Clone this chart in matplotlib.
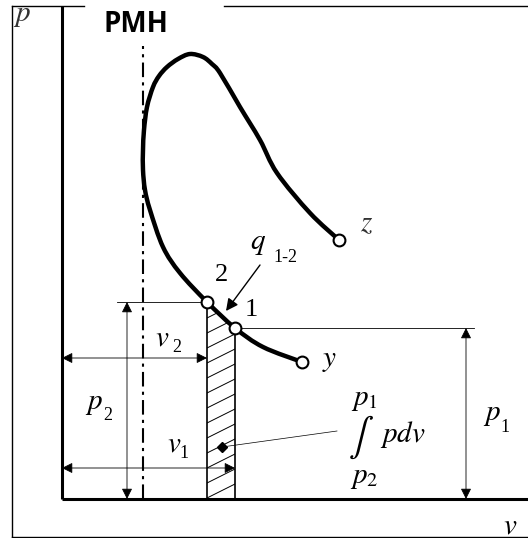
import matplotlib
matplotlib.use("Agg")
import matplotlib.pyplot as plt
from matplotlib.patches import Polygon, PathPatch
from matplotlib.path import Path
import numpy as np

plt.rcParams['mathtext.fontset'] = 'stix'

# diagram coordinates: v to the right, p upward (origin at the axes corner)
curve_v = [277, 248, 215, 198, 178, 158, 150, 141, 128, 116, 105, 97, 91, 85, 82, 81, 81, 83, 88, 101, 118, 145, 173, 201, 240]
curve_p = [259, 286, 326, 359, 392, 426, 435, 442, 445, 440, 432, 423, 412, 392, 369, 349, 329, 309, 289, 252, 226, 197, 171, 152, 137]

# marked states: z (start), 2, 1, y (end)
point_names = ['z', '2', '1', 'y']
point_v = [277, 145, 173, 240]
point_p = [259, 197, 171, 137]

pmh_v = 81          # dead centre line
v_max, p_top = 466, 493

fig = plt.figure(figsize=(5.28, 5.38), dpi=100)
ax = fig.add_axes([0, 0, 1, 1])
ax.set_xlim(-62, 466)
ax.set_ylim(-39, 499)
ax.axis('off')

# outer frame
ax.plot([-50, -50], [-38, p_top], color='black', lw=1.0)
ax.plot([-50, v_max], [-38, -38], color='black', lw=1.0)
ax.plot([-50, 22], [p_top, p_top], color='black', lw=1.0)
ax.plot([162, v_max], [p_top, p_top], color='black', lw=1.0)

# p-v axes
ax.plot([0, 0], [0, p_top], color='black', lw=2.2, solid_capstyle='butt')
ax.plot([0, v_max], [0, 0], color='black', lw=2.2, solid_capstyle='butt')

# PMH line
ax.plot([pmh_v, pmh_v], [0, 453], color='black', lw=1.5,
        linestyle=(0, (7, 2.5, 1.5, 2.5)))
ax.text(74, 474, 'PMH', fontfamily='Open Sans', fontweight='bold',
        fontsize=20, ha='center', va='center')

# hatched work area between 2 and 1
v2, p2 = point_v[1], point_p[1]
v1, p1 = point_v[2], point_p[2]
area = Polygon([(v2, 0), (v2, p2), (v1, p1), (v1, 0)], closed=True,
               facecolor='white', edgecolor='black', lw=1.2)
ax.add_patch(area)
for c in np.arange(-14, p2, 15):
    hl, = ax.plot([v2, v1], [c, c + 0.5 * (v1 - v2)], color='black', lw=0.7)
    hl.set_clip_path(area)

# process curve, smoothed with cubic bezier handles
pts = np.column_stack([curve_v, curve_p]).astype(float)
verts = [pts[0]]
codes = [Path.MOVETO]
for i in range(len(pts) - 1):
    prev = pts[max(i - 1, 0)]
    nxt = pts[min(i + 2, len(pts) - 1)]
    verts += [pts[i] + (pts[i + 1] - prev) / 6, pts[i + 1] - (nxt - pts[i]) / 6, pts[i + 1]]
    codes += [Path.CURVE4] * 3
ax.add_patch(PathPatch(Path(verts, codes), fill=False, lw=3.2, edgecolor='black',
                       capstyle='round', joinstyle='round', zorder=3))
ax.plot(point_v, point_p, 'o', ms=8.5, mfc='white', mec='black', mew=1.5,
        zorder=4)

# guide lines
ax.plot([55, v2], [p2, p2], color='black', lw=0.6)
ax.plot([v1, 412], [p1, p1], color='black', lw=0.6)


def dim_arrow(a, b):
    ax.annotate('', xy=b, xytext=a,
                arrowprops=dict(arrowstyle='<|-|>', color='black', lw=0.6,
                                mutation_scale=16, shrinkA=0, shrinkB=0))


dim_arrow((65, 0), (65, p2))
dim_arrow((404, 0), (404, p1))
dim_arrow((0, 141), (v2, 141))
dim_arrow((0, 31), (v1, 31))

# heat arrow q1-2
ax.annotate('', xy=(164, 188), xytext=(198, 234),
            arrowprops=dict(arrowstyle='-|>', color='black', lw=1.0,
                            mutation_scale=18, shrinkA=0, shrinkB=0))

# leader to the integral
ax.plot([160, 275], [52, 68], color='black', lw=0.5)
ax.plot([160], [52], 'D', ms=5, color='black')

fs = 21
sub = dict(fontfamily='Liberation Serif', fontsize=13, ha='center', va='center')
ax.text(-40, 484, r'$p$', fontsize=fs, ha='center', va='center', color='#333333')
ax.text(448, -27, r'$v$', fontsize=fs, ha='center', va='center')
ax.text(305, 276, r'$z$', fontsize=fs, ha='center', va='center', color='#333333')
ax.text(268, 139, r'$y$', fontsize=fs, ha='center', va='center')
ax.text(159, 224, '2', fontfamily='Liberation Serif', fontsize=19, ha='center', va='center')
ax.text(189, 189, '1', fontfamily='Liberation Serif', fontsize=19, ha='center', va='center')
ax.text(196, 256, r'$q$', fontsize=fs, ha='center', va='center')
ax.text(223, 241, '1-2', **sub)
ax.text(100, 161, r'$v$', fontsize=fs, ha='center', va='center')
ax.text(115, 151, '2', **sub)
ax.text(112, 55, r'$v$', fontsize=fs, ha='center', va='center')
ax.text(122, 45, '1', **sub)
ax.text(32, 96, r'$p$', fontsize=fs, ha='center', va='center')
ax.text(46, 83, '2', **sub)
ax.text(430, 85, r'$p$', fontsize=fs, ha='center', va='center')
ax.text(443, 71, '1', **sub)
ax.text(302, 100, r'$p_1$', fontsize=fs, ha='center', va='center')
ax.text(302, 22, r'$p_2$', fontsize=fs, ha='center', va='center')
ax.text(299, 62, r'$\int$', fontsize=27, ha='center', va='center')
ax.text(341, 64, r'$pdv$', fontsize=fs, ha='center', va='center')

fig.savefig('out.png', dpi=100)
